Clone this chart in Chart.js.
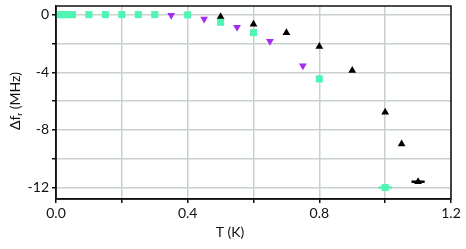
<!DOCTYPE html>
<html lang="en">
<head>
  <meta charset="UTF-8">
  <title>Frequency shift vs temperature</title>
  <script src="https://cdn.jsdelivr.net/npm/chart.js"></script>
  <style>
    html, body { margin: 0; padding: 0; background: #fff; }
    .chart-box { position: relative; width: 466px; height: 249px; }
  </style>
</head>
<body>
  <div class="chart-box">
    <canvas id="shiftChart" width="466" height="249"></canvas>
  </div>

  <script>
    // Cyan squares
    const tCyan = [0.01, 0.02, 0.03, 0.04, 0.05, 0.1, 0.15, 0.2, 0.25, 0.3, 0.4, 0.5, 0.6, 0.8, 1.0];
    const dfCyan = [0, 0, 0, 0, 0, 0, 0, 0, 0, 0, -0.02, -0.53, -1.25, -4.46, -12.0];
    const errCyan = [0, 0, 0, 0, 0, 0, 0, 0, 0, 0, 0, 0, 0, 0, 0.02];

    // Purple down triangles
    const tPurple = [0.35, 0.45, 0.55, 0.65, 0.75];
    const dfPurple = [-0.05, -0.3, -0.87, -1.85, -3.54];

    // Black up triangles
    const tBlack = [0.5, 0.6, 0.7, 0.8, 0.9, 1.0, 1.05, 1.1];
    const dfBlack = [-0.14, -0.67, -1.25, -2.22, -3.88, -6.77, -8.98, -11.6];
    const errBlack = [0, 0, 0, 0, 0, 0, 0, 0.02];

    // Axis ticks
    const xTicks = [0, 0.2, 0.4, 0.6, 0.8, 1.0, 1.2];
    const xLabels = ['0.0', '', '0.4', '', '0.8', '', '1.2'];
    const yTicks = [0, -2, -4, -6, -8, -10, -12];
    const yLabels = ['0', '', '-4', '', '-8', '', '-12'];

    const toPoints = (xs, ys) => xs.map((x, i) => ({ x: x, y: ys[i] }));

    const FONT = 'Lato, "Open Sans", sans-serif';

    // horizontal error bars + frame + axis titles
    const extras = {
      id: 'extras',
      beforeDatasetsDraw(chart) {
        const ctx = chart.ctx;
        const xs = chart.scales.x, ys = chart.scales.y;
        const bars = [
          [tCyan, dfCyan, errCyan, '#4ff5b2'],
          [tBlack, dfBlack, errBlack, '#000']
        ];
        ctx.save();
        ctx.lineWidth = 2.5;
        bars.forEach(([t, v, e, c]) => {
          t.forEach((x, i) => {
            if (!e[i]) return;
            const py = ys.getPixelForValue(v[i]);
            ctx.strokeStyle = c;
            ctx.beginPath();
            ctx.moveTo(xs.getPixelForValue(x - e[i]), py);
            ctx.lineTo(xs.getPixelForValue(x + e[i]), py);
            ctx.stroke();
          });
        });
        ctx.restore();
      },
      afterDraw(chart) {
        const ctx = chart.ctx;
        const a = chart.chartArea;
        ctx.save();
        ctx.strokeStyle = '#111';
        ctx.lineWidth = 1.5;
        ctx.strokeRect(a.left, a.top, a.right - a.left, a.bottom - a.top);

        ctx.fillStyle = '#111';
        ctx.font = '14px ' + FONT;
        ctx.textAlign = 'center';
        ctx.textBaseline = 'middle';
        ctx.fillText('T (K)', 230, 232);

        ctx.translate(15, 101);
        ctx.rotate(-Math.PI / 2);
        ctx.fillText('\u0394f\u1D63 (MHz)', 0, 0);
        ctx.restore();
      }
    };

    new Chart(document.getElementById('shiftChart').getContext('2d'), {
      type: 'scatter',
      data: {
        datasets: [
          {
            label: 'cyan',
            data: toPoints(tCyan, dfCyan),
            pointStyle: 'rect',
            pointRadius: 5,
            backgroundColor: '#4ff5b2',
            borderColor: '#4ff5b2',
            borderWidth: 0
          },
          {
            label: 'purple',
            data: toPoints(tPurple, dfPurple),
            pointStyle: 'triangle',
            rotation: 180,
            pointRadius: 4.5,
            backgroundColor: '#a32cf0',
            borderColor: '#a32cf0',
            borderWidth: 0
          },
          {
            label: 'black',
            data: toPoints(tBlack, dfBlack),
            pointStyle: 'triangle',
            pointRadius: 4.5,
            backgroundColor: '#000',
            borderColor: '#000',
            borderWidth: 0
          }
        ]
      },
      options: {
        responsive: false,
        animation: false,
        layout: { padding: { top: 6, right: 15, left: 0, bottom: 0 } },
        plugins: { legend: { display: false }, tooltip: { enabled: false } },
        scales: {
          x: {
            type: 'linear',
            min: 0,
            max: 1.2,
            afterBuildTicks: s => { s.ticks = xTicks.map(v => ({ value: v })); },
            afterFit: s => { s.height = 50; s.paddingLeft = 0; s.paddingRight = 0; },
            grid: { color: '#c9d1cf', lineWidth: 1.5, tickColor: '#111', tickLength: 4, drawTicks: true },
            border: { display: true, color: '#111', width: 1.5 },
            ticks: {
              autoSkip: false,
              maxRotation: 0,
              padding: 2,
              color: '#111',
              font: { family: FONT, size: 14 },
              callback: (v, i) => xLabels[i]
            }
          },
          y: {
            type: 'linear',
            min: -12.8,
            max: 0.6,
            afterBuildTicks: s => { s.ticks = yTicks.map(v => ({ value: v })); },
            afterFit: s => { s.width = 56; s.paddingTop = 0; s.paddingBottom = 0; },
            grid: { color: '#c9d1cf', lineWidth: 1.5, tickColor: '#111', tickLength: 4, drawTicks: true },
            border: { display: true, color: '#111', width: 1.5 },
            ticks: {
              autoSkip: false,
              padding: 3,
              color: '#111',
              font: { family: FONT, size: 14 },
              callback: (v, i) => yLabels[i]
            }
          }
        }
      },
      plugins: [extras]
    });
  </script>
</body>
</html>
